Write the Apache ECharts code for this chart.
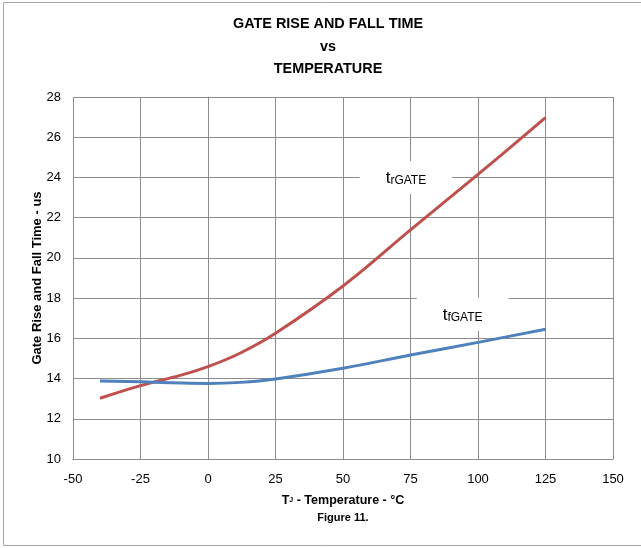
<!DOCTYPE html>
<html>
<head>
<meta charset="utf-8">
<script src="https://cdn.jsdelivr.net/npm/echarts@6/dist/echarts.min.js"></script>
<style>
html,body{margin:0;padding:0;background:#fff;}
#c{width:641px;height:548px;}
</style>
</head>
<body>
<div id="c"></div>
<script>
var temps = [-40, -25, -10, 0, 12, 25, 50, 75, 100, 125];
var riseTime = [13.02, 13.65, 14.17, 14.59, 15.27, 16.25, 18.6, 21.39, 24.15, 26.97];
var fallTime = [13.88, 13.84, 13.78, 13.76, 13.81, 13.98, 14.51, 15.17, 15.80, 16.45];
var xTicks = [-50, -25, 0, 25, 50, 75, 100, 125, 150];
var yTicks = [10, 12, 14, 16, 18, 20, 22, 24, 26, 28];

var chart = echarts.init(document.getElementById('c'), null, {renderer: 'canvas'});
var F = '"Liberation Sans", Arial, sans-serif';
function pairs(xs, ys){ return xs.map(function(x,i){ return [x, ys[i]]; }); }

chart.setOption({
  animation: false,
  backgroundColor: '#fff',
  title: {
    text: 'GATE RISE AND FALL TIME\nvs\nTEMPERATURE',
    left: 323, textAlign: 'center', top: 8,
    textStyle: {fontFamily: F, fontSize: 14.4, fontWeight: 'bold', color: '#000', lineHeight: 22.5}
  },
  grid: {left: 73, right: 28, top: 97, bottom: 89},
  xAxis: {
    type: 'value', min: xTicks[0], max: xTicks[xTicks.length-1], interval: 25,
    name: '{a|T}{s|J}{a| - Temperature - °C}\n{b|Figure 11.}',
    nameLocation: 'middle', nameGap: 33,
    nameTextStyle: {
      lineHeight: 17,
      rich: {
        a: {fontFamily: F, fontSize: 12.5, fontWeight: 'bold', color: '#000', lineHeight: 17},
        s: {fontFamily: F, fontSize: 7, fontWeight: 'bold', color: '#000', lineHeight: 17},
        b: {fontFamily: F, fontSize: 11, fontWeight: 'bold', color: '#000', lineHeight: 17}
      }
    },
    axisLine: {show: true, lineStyle: {color: '#8c8c8c', width: 1}},
    axisTick: {show: false},
    axisLabel: {fontFamily: F, fontSize: 13, color: '#000', margin: 14},
    splitLine: {show: true, lineStyle: {color: '#8c8c8c', width: 1}}
  },
  yAxis: {
    type: 'value', min: yTicks[0], max: yTicks[yTicks.length-1], interval: 2,
    name: 'Gate Rise and Fall Time - us',
    nameLocation: 'middle', nameGap: 29, nameMoveOverlap: false,
    nameTextStyle: {fontFamily: F, fontSize: 13, fontWeight: 'bold', color: '#000'},
    axisLine: {show: true, lineStyle: {color: '#8c8c8c', width: 1}},
    axisTick: {show: true, length: 5, lineStyle: {color: '#8c8c8c'}},
    axisLabel: {fontFamily: F, fontSize: 13, color: '#000', margin: 12},
    splitLine: {show: true, lineStyle: {color: '#8c8c8c', width: 1}}
  },
  series: [
    {
      name: 'trGATE', type: 'line', smooth: 0.4, symbol: 'none',
      data: pairs(temps, riseTime),
      lineStyle: {color: '#c0504d', width: 3}
    },
    {
      name: 'tfGATE', type: 'line', smooth: 0.4, symbol: 'none',
      data: pairs(temps, fallTime),
      lineStyle: {color: '#4f81bd', width: 3}
    }
  ]
});

function labelAt(x, y, main, sub) {
  var p = chart.convertToPixel({gridIndex: 0}, [x, y]);
  return {
    type: 'text', x: p[0], y: p[1], z: 10,
    style: {
      text: '{t|' + main + '}{s|' + sub + '}',
      align: 'center', verticalAlign: 'middle',
      backgroundColor: '#fff',
      padding: [9, 26, 7, 26],
      rich: {
        t: {fontFamily: F, fontSize: 17, fill: '#000', verticalAlign: 'bottom'},
        s: {fontFamily: F, fontSize: 12, fill: '#000', verticalAlign: 'bottom'}
      }
    }
  };
}

chart.setOption({
  graphic: [
    {type: 'rect', shape: {x: 3.5, y: 2.5, width: 640, height: 543}, style: {fill: 'none', stroke: '#a6a6a6', lineWidth: 1}, silent: true},
    labelAt(73.3, 24.0, 't', 'rGATE'),
    labelAt(94.3, 17.2, 't', 'fGATE')
  ]
});
</script>
</body>
</html>
